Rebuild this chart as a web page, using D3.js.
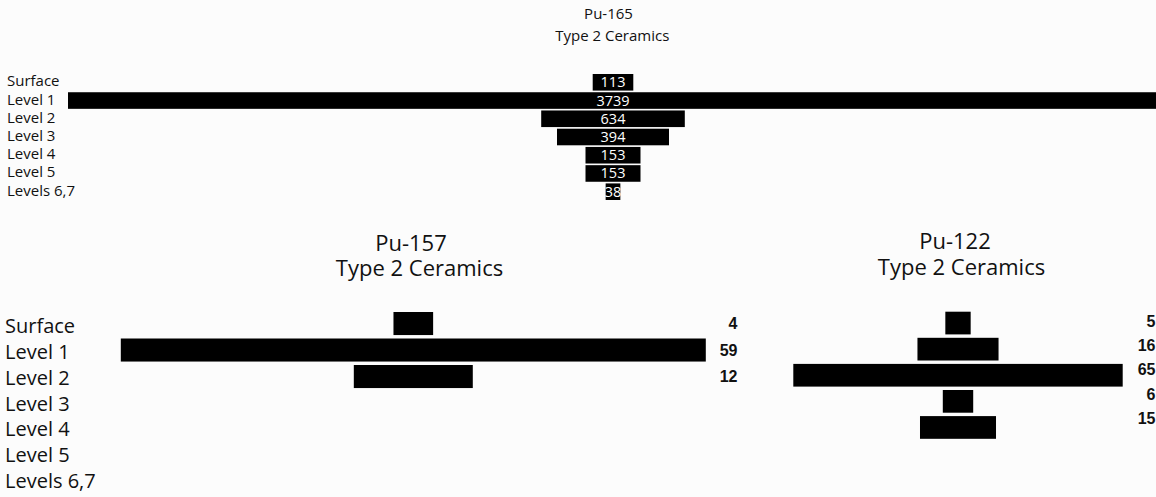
<!DOCTYPE html>
<html>
<head>
<meta charset="utf-8">
<script src="https://cdn.jsdelivr.net/npm/d3@7"></script>
<style>
  html, body { margin: 0; padding: 0; background: #fcfcfc; }
  svg { display: block; }
</style>
</head>
<body>
<svg id="chart" width="1156" height="497"></svg>
<script>
// ---------- data ----------
const levels = ["Surface", "Level 1", "Level 2", "Level 3", "Level 4", "Level 5", "Levels 6,7"];

const pu165Title = ["Pu-165", "Type 2 Ceramics"];
const pu165Levels = ["Surface", "Level 1", "Level 2", "Level 3", "Level 4", "Level 5", "Levels 6,7"];
const pu165Values = [113, 3739, 634, 394, 153, 153, 38];

const pu157Title = ["Pu-157", "Type 2 Ceramics"];
const pu157Levels = ["Surface", "Level 1", "Level 2"];
const pu157Values = [4, 59, 12];

const pu122Title = ["Pu-122", "Type 2 Ceramics"];
const pu122Levels = ["Surface", "Level 1", "Level 2", "Level 3", "Level 4"];
const pu122Values = [5, 16, 65, 6, 15];

// ---------- drawing ----------
const svg = d3.select("#chart");
const FONT = "'Open Sans', 'Noto Sans', sans-serif";
const BOLD = "'Liberation Sans', Arial, sans-serif";

// ===== Top panel: Pu-165 =====
const topCx = 613;
// the original's bar widths are not proportional; piecewise scale reproduces them
const topW = d3.scaleLinear()
  .domain([0, 38, 113, 153, 394, 634, 3739])
  .range([0, 14.7, 40.6, 55, 112, 143.6, 1090]);
const topY = d3.scaleBand().domain(levels).range([74, 200]).paddingInner(0.09).paddingOuter(0);

const gTop = svg.append("g");
gTop.selectAll("text.title").data(pu165Title).join("text")
  .attr("class", "title")
  .attr("x", (d, i) => i === 0 ? 608.5 : 612.3)
  .attr("y", (d, i) => i === 0 ? 19 : 41)
  .attr("text-anchor", "middle")
  .attr("font-family", FONT).attr("font-size", 15).attr("fill", "#111")
  .text(d => d);

gTop.selectAll("text.cat").data(levels).join("text")
  .attr("class", "cat")
  .attr("x", 7)
  .attr("y", d => topY(d) + topY.bandwidth() / 2 + 4)
  .attr("font-family", FONT).attr("font-size", 15).attr("fill", "#111")
  .text(d => d);

const topData = pu165Levels.map((l, i) => ({ level: l, value: pu165Values[i] }));
gTop.selectAll("rect").data(topData).join("rect")
  .attr("x", d => topCx - topW(d.value) / 2)
  .attr("y", d => topY(d.level))
  .attr("width", d => topW(d.value))
  .attr("height", topY.bandwidth())
  .attr("fill", "#000");

gTop.selectAll("text.val").data(topData).join("text")
  .attr("class", "val")
  .attr("x", topCx)
  .attr("y", d => topY(d.level) + topY.bandwidth() / 2 + 5)
  .attr("text-anchor", "middle")
  .attr("font-family", FONT).attr("font-size", 14.5).attr("fill", "#fff")
  .text(d => d.value);

// ===== Bottom category labels =====
const botLabelY = d3.scalePoint().domain(levels).range([333, 488]);
svg.append("g").selectAll("text").data(levels).join("text")
  .attr("x", 5)
  .attr("y", d => botLabelY(d))
  .attr("font-family", FONT).attr("font-size", 20).attr("fill", "#111")
  .text(d => d);

// ===== Bottom panels =====
function panel(opts) {
  const g = svg.append("g");
  const w = d3.scaleLinear().domain([0, opts.maxV]).range([0, opts.maxW]);
  const y = d3.scaleBand().domain(levels)
    .range([opts.y0, opts.y0 + opts.step * (levels.length - 0.13)])
    .paddingInner(0.13).paddingOuter(0);
  const data = opts.levels.map((l, i) => ({ level: l, value: opts.values[i] }));

  g.selectAll("text.title").data(opts.title).join("text")
    .attr("class", "title")
    .attr("x", (d, i) => opts.titleX[i])
    .attr("y", (d, i) => opts.titleY[i])
    .attr("text-anchor", "middle")
    .attr("font-family", FONT).attr("font-size", 22).attr("fill", "#111")
    .text(d => d);

  g.selectAll("rect").data(data).join("rect")
    .attr("x", d => opts.cx - w(d.value) / 2)
    .attr("y", d => y(d.level))
    .attr("width", d => w(d.value))
    .attr("height", y.bandwidth())
    .attr("fill", "#000");

  g.selectAll("text.val").data(data).join("text")
    .attr("class", "val")
    .attr("x", opts.valX)
    .attr("y", d => opts.valY ? opts.valY(d.level) : y(d.level) + y.bandwidth() / 2 + 5.5)
    .attr("text-anchor", "end")
    .attr("font-family", BOLD).attr("font-weight", "bold").attr("font-size", 16).attr("fill", "#111")
    .text(d => d.value);
}

panel({
  title: pu157Title, titleX: [411, 419.5], titleY: [251, 276],
  levels: pu157Levels, values: pu157Values,
  maxV: 59, maxW: 585, cx: 413.3, y0: 312, step: 26.5,
  valX: 737.5
});

panel({
  title: pu122Title, titleX: [955, 961.5], titleY: [248.5, 275],
  levels: pu122Levels, values: pu122Values,
  maxV: 65, maxW: 329.4, cx: 958, y0: 311.7, step: 26.1,
  valX: 1155.5,
  valY: d3.scalePoint().domain(levels).range([326.7, 326.7 + 24.3 * 6])
});
</script>
</body>
</html>
